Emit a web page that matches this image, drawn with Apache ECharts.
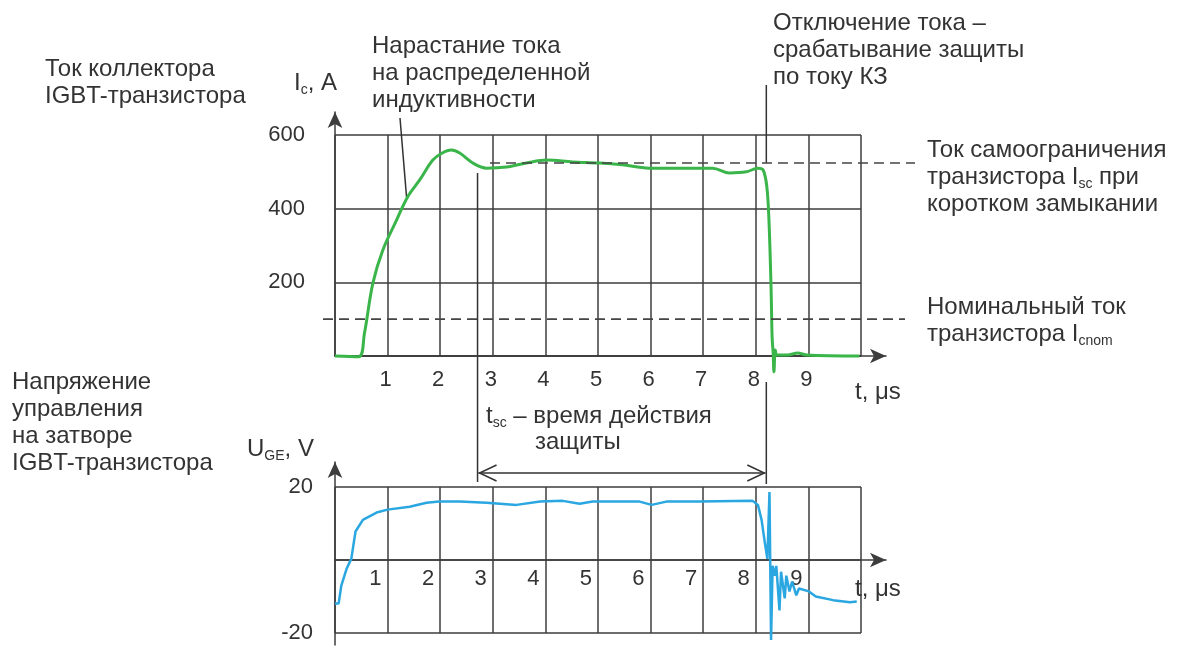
<!DOCTYPE html>
<html><head><meta charset="utf-8">
<script src="https://cdn.jsdelivr.net/npm/echarts@6/dist/echarts.min.js"></script>
<style>html,body{margin:0;padding:0;background:#fff}#c{width:1180px;height:650px}</style>
</head><body><div id="c"></div>
<script>
// ---------- data ----------
const tCurrent = [0, 0.45, 0.56, 0.72, 0.91, 1.17, 1.38, 1.61, 1.86, 2.04, 2.21, 2.37, 2.62, 2.88, 3.26, 3.64, 4.02, 4.52, 5.03, 5.46, 5.97, 6.6, 7.18, 7.5, 7.82, 8.04, 8.14, 8.21, 8.25, 8.29, 8.31, 8.33, 8.345, 8.37, 8.40, 8.6, 8.8, 8.96, 9.97];
const current  = [0, -2, 62, 198, 288, 369, 432, 478, 532, 551, 559, 551, 524, 510, 513, 524, 532, 527, 524, 519, 510, 510, 510, 497, 500, 510, 505, 459, 369, 187, 52, 8, -43, 16, 3, 3, 8, 3, 0];
const tGate = [0, 0.07, 0.12, 0.22, 0.31, 0.39, 0.53, 0.79, 1.0, 1.42, 1.74, 1.98, 2.37, 2.88, 3.45, 3.9, 4.33, 4.65, 4.9, 5.4, 5.79, 6.02, 6.3, 6.93, 7.94, 8.04, 8.11, 8.17, 8.22, 8.26, 8.29, 8.32, 8.36, 8.39, 8.45, 8.48, 8.55, 8.58, 8.64, 8.69, 8.77, 8.82, 9.01, 9.14, 9.47, 9.79, 9.92];
const gateVoltage = [-11.9, -11.9, -7, -2.4, 0.3, 7.8, 11, 13, 13.8, 14.6, 15.7, 16, 16, 15.7, 15.1, 16, 16.2, 15.4, 16, 16, 16, 15.1, 16, 16, 16.2, 15.1, 11, 4.9, 0.3, 18.6, -21.9, -1.6, -4.3, -1.6, -13.8, -3.2, -10.5, -4.3, -8.6, -5.9, -9.7, -7.8, -8.6, -10, -11, -11.6, -11.4];
const timeTicks = [1, 2, 3, 4, 5, 6, 7, 8, 9];
const currentTicks = [200, 400, 600];
const voltageTicks = [-20, 20];
const nominalCurrent = 100;
const selfLimitCurrent = 524;
const tscStart = 2.71;
const tscEnd = 8.2;

// ---------- layout ----------
const X0 = 335, PX = 52.6;              // px of t=0, px per µs
const TOP_Y0 = 356, TOP_PY = 221 / 600; // px of I=0, px per A
const BOT_Y0 = 560, BOT_PY = 146 / 40;  // px of U=0, px per V
const FONT = '"Liberation Sans", Arial, sans-serif';
const INK = '#333';
const GRID_LINE = { color: '#3d3d3d', width: 1.5 };
const tAt = px => (px - X0) / PX;
const iAt = py => (TOP_Y0 - py) / TOP_PY;
const uAt = py => (BOT_Y0 - py) / BOT_PY;
const tickFmt = v => timeTicks.includes(v) ? String(v) : '';

const arrowAxis = (grid, extra) => Object.assign({
  gridIndex: grid, type: 'value', min: 0, max: 1,
  axisLine: { show: true, symbol: ['none', 'arrow'], symbolSize: [11, 16], lineStyle: GRID_LINE },
  axisTick: { show: false }, axisLabel: { show: false }, splitLine: { show: false }
}, extra || {});
const hiddenAxis = (grid, min, max) => ({
  gridIndex: grid, type: 'value', min, max, show: false, splitLine: { show: false }
});
const g = (left, top, width, height) => ({ left, top, width, height, containLabel: false, outerBoundsMode: 'none' });

const chart = echarts.init(document.getElementById('c'), null, { renderer: 'canvas' });
chart.setOption({
  animation: false,
  backgroundColor: '#fff',
  grid: [
    g(X0, 135, 526, 221),   // 0 top data
    g(X0, 112, 551, 244),   // 1 top arrows
    g(X0, 487, 526, 146),   // 2 bottom data
    g(X0, 462, 551, 183),   // 3 bottom arrows
    g(300, 100, 640, 280),  // 4 top annotations
    g(X0, 487, 526, BOT_Y0 - 487) // 5 bottom time labels (bottom edge on U = 0)
  ],
  xAxis: [
    { gridIndex: 0, type: 'value', min: 0, max: 10, interval: 1,
      axisLine: { show: true, lineStyle: GRID_LINE }, axisTick: { show: false },
      splitLine: { show: true, lineStyle: GRID_LINE },
      axisLabel: { margin: 13, fontSize: 22, fontFamily: FONT, color: INK, padding: [0, 4, 0, 0], formatter: tickFmt } },
    arrowAxis(1),
    { gridIndex: 2, type: 'value', min: 0, max: 10, interval: 1,
      axisLine: { show: false }, axisTick: { show: false },
      splitLine: { show: true, lineStyle: GRID_LINE },
      axisLabel: { show: false } },
    arrowAxis(3),
    hiddenAxis(4, tAt(300), tAt(940)),
    { gridIndex: 5, type: 'value', min: 0, max: 10, interval: 1,
      axisLine: { show: false }, axisTick: { show: false }, splitLine: { show: false },
      axisLabel: { margin: 8, fontSize: 22, fontFamily: FONT, color: INK,
        align: 'right', padding: [0, 6, 0, 0], formatter: tickFmt } }
  ],
  yAxis: [
    { gridIndex: 0, type: 'value', min: 0, max: 600, interval: 200,
      axisLine: { show: false }, axisTick: { show: false },
      splitLine: { show: true, lineStyle: GRID_LINE },
      axisLabel: { margin: 30, fontSize: 22, fontFamily: FONT, color: INK,
        formatter: v => currentTicks.includes(v) ? String(v) : '' } },
    arrowAxis(1),
    { gridIndex: 2, type: 'value', min: -20, max: 20, interval: 20,
      axisLine: { show: false }, axisTick: { show: false },
      splitLine: { show: true, lineStyle: GRID_LINE },
      axisLabel: { margin: 22, fontSize: 22, fontFamily: FONT, color: INK,
        formatter: v => voltageTicks.includes(v) ? String(v) : '' } },
    arrowAxis(3, { min: uAt(645), max: uAt(462) }),
    hiddenAxis(4, iAt(380), iAt(100)),
    hiddenAxis(5, 0, 20)
  ],
  series: [
    { name: 'Ic', type: 'line', xAxisIndex: 0, yAxisIndex: 0, clip: false,
      symbol: 'none', smooth: 0.35,
      lineStyle: { color: '#3ab54a', width: 3 },
      data: tCurrent.map((t, i) => [t, current[i]]) },
    { name: 'UGE', type: 'line', xAxisIndex: 2, yAxisIndex: 2, clip: false,
      symbol: 'none', lineStyle: { color: '#2aa6e0', width: 2.5 },
      data: tGate.map((t, i) => [t, gateVoltage[i]]) },
    { name: 'Icnom', type: 'line', xAxisIndex: 4, yAxisIndex: 4, symbol: 'none',
      lineStyle: { color: '#444', width: 1.6, type: [10, 6] },
      data: [[tAt(323), nominalCurrent], [tAt(905), nominalCurrent]] },
    { name: 'Isc', type: 'line', xAxisIndex: 4, yAxisIndex: 4, symbol: 'none',
      lineStyle: { color: '#444', width: 1.6, type: [10, 6] },
      data: [[tAt(490), selfLimitCurrent], [tAt(915), selfLimitCurrent]] }
  ]
});

// ---------- annotations ----------
const FS = 24;
const base = { fontSize: FS, fontFamily: FONT, fill: INK };
const sub = { fontSize: 14, fontFamily: FONT, fill: INK, lineHeight: 15, verticalAlign: 'bottom' };
const nrm = { fontSize: FS, fontFamily: FONT, fill: INK, lineHeight: 27 };
function txt(x, y, text, rich) {
  const style = Object.assign({ text, lineHeight: 27, verticalAlign: 'top', align: 'left' }, base);
  if (rich) style.rich = { n: nrm, s: sub };
  return { type: 'text', x, y, style, silent: true };
}
function seg(x1, y1, x2, y2) {
  return { type: 'line', shape: { x1, y1, x2, y2 }, style: { stroke: INK, lineWidth: 1.5 }, silent: true };
}
function poly(points) {
  return { type: 'polyline', shape: { points }, style: { stroke: INK, lineWidth: 1.5, fill: null }, silent: true };
}
const xs = chart.convertToPixel({ gridIndex: 0 }, [tscStart, 0])[0];
const xe = chart.convertToPixel({ gridIndex: 0 }, [tscEnd, 0])[0];
const yIsc = chart.convertToPixel({ gridIndex: 0 }, [0, selfLimitCurrent])[1];
const ptr = chart.convertToPixel({ gridIndex: 0 }, [1.36, 432]);
const yArrow = 473;

chart.setOption({
  graphic: [
    txt(45, 56, 'Ток коллектора\nIGBT-транзистора'),
    txt(294, 70, '{n|I}{s|c}{n|, A}', true),
    txt(372, 33, 'Нарастание тока\nна распределенной\nиндуктивности'),
    txt(773, 10, 'Отключение тока –\nсрабатывание защиты\nпо току КЗ'),
    txt(927, 137, '{n|Ток самоограничения}\n{n|транзистора I}{s|sc}{n| при}\n{n|коротком замыкании}', true),
    txt(927, 294, '{n|Номинальный ток}\n{n|транзистора I}{s|cnom}', true),
    txt(855, 379, 't, μs'),
    txt(855, 576, 't, μs'),
    txt(12, 369, 'Напряжение\nуправления\nна затворе\nIGBT-транзистора'),
    txt(247, 436, '{n|U}{s|GE}{n|, V}', true),
    txt(486, 403, '{n|t}{s|sc}{n| – время действия}', true),
    txt(535, 429, 'защиты'),
    seg(400, 118, ptr[0], ptr[1]),
    seg(xs, 173, xs, 482),
    seg(xe, 85, xe, yIsc),
    seg(xe, 382, xe, 484),
    seg(xs + 1, yArrow, xe - 1, yArrow),
    poly([[xs + 19, yArrow - 8], [xs + 2, yArrow], [xs + 19, yArrow + 8]]),
    poly([[xe - 19, yArrow - 8], [xe - 2, yArrow], [xe - 19, yArrow + 8]])
  ]
});
</script>
</body></html>
